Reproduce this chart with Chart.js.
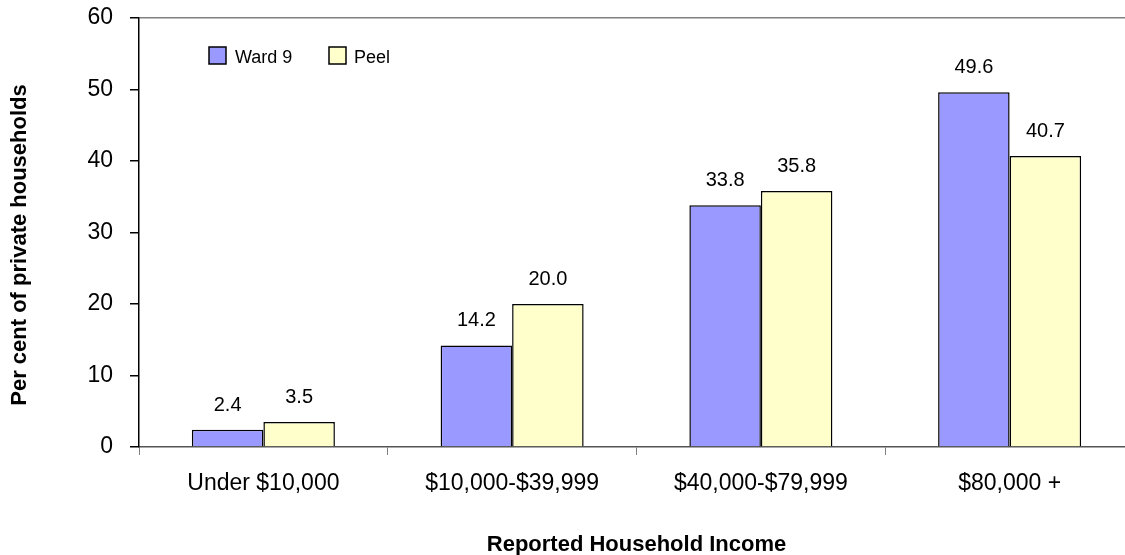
<!DOCTYPE html>
<html>
<head>
<meta charset="utf-8">
<script src="https://cdn.jsdelivr.net/npm/chart.js@4/dist/chart.umd.min.js"></script>
<style>
  html, body { margin: 0; padding: 0; background: #fff; overflow: hidden; }
  canvas { display: block; }
</style>
</head>
<body>
<canvas id="c" width="1140" height="555"></canvas>
<script>
// Household income distribution, Ward 9 vs Peel (per cent of private households)
const categories = ['Under $10,000', '$10,000-$39,999', '$40,000-$79,999', '$80,000 +'];
const ward9Values = [2.4, 14.2, 33.8, 49.6];
const peelValues = [3.5, 20.0, 35.8, 40.7];
const yTickValues = [0, 10, 20, 30, 40, 50, 60];
const seriesNames = ['Ward 9', 'Peel'];
const yAxisTitle = 'Per cent of private households';
const xAxisTitle = 'Reported Household Income';

const FONT = "'Liberation Sans', Arial, sans-serif";

// Value labels above each bar
const valueLabels = {
  id: 'valueLabels',
  afterDatasetsDraw(chart) {
    const ctx = chart.ctx;
    ctx.save();
    ctx.font = '20px ' + FONT;
    ctx.fillStyle = '#000';
    ctx.textAlign = 'center';
    ctx.textBaseline = 'alphabetic';
    chart.data.datasets.forEach((ds, i) => {
      chart.getDatasetMeta(i).data.forEach((bar, j) => {
        ctx.fillText(ds.data[j].toFixed(1), bar.x, bar.y - 19);
      });
    });
    ctx.restore();
  }
};

// Inline legend inside the plot area
const insetLegend = {
  id: 'insetLegend',
  afterDraw(chart) {
    const ctx = chart.ctx;
    const items = [{ x: 209, tx: 235 }, { x: 329, tx: 354 }];
    ctx.save();
    ctx.font = '18px ' + FONT;
    ctx.textBaseline = 'alphabetic';
    ctx.textAlign = 'left';
    chart.data.datasets.forEach((ds, i) => {
      const it = items[i];
      ctx.fillStyle = ds.backgroundColor;
      ctx.fillRect(it.x, 47, 17, 17);
      ctx.strokeStyle = '#000';
      ctx.lineWidth = 1.5;
      ctx.strokeRect(it.x, 47, 17, 17);
      ctx.fillStyle = '#000';
      ctx.fillText(ds.label, it.tx, 63);
    });
    ctx.restore();
  }
};

// Vertical value-axis title, placed a little below the plot's middle
const yTitle = {
  id: 'yTitle',
  afterDraw(chart) {
    const ctx = chart.ctx;
    ctx.save();
    ctx.translate(20, 245);
    ctx.rotate(-Math.PI / 2);
    ctx.font = 'bold 22px ' + FONT;
    ctx.fillStyle = '#000';
    ctx.textAlign = 'center';
    ctx.textBaseline = 'middle';
    ctx.fillText(yAxisTitle, 0, 0);
    ctx.restore();
  }
};

new Chart(document.getElementById('c'), {
  type: 'bar',
  data: {
    labels: categories,
    datasets: [
      { label: seriesNames[0], data: ward9Values, backgroundColor: '#9999FF', borderColor: '#000', borderWidth: 1.5 },
      { label: seriesNames[1], data: peelValues, backgroundColor: '#FFFFCC', borderColor: '#000', borderWidth: 1.5 }
    ]
  },
  options: {
    responsive: false,
    animation: false,
    layout: { padding: { left: 0, right: 6, top: 18, bottom: 0 } },
    datasets: { bar: { categoryPercentage: 0.575, barPercentage: 1.0 } },
    plugins: { legend: { display: false }, tooltip: { enabled: false } },
    scales: {
      x: {
        afterFit(s) { s.height = 108; },
        grid: { drawOnChartArea: false, color: '#808080', tickLength: 8, offset: true },
        border: { display: true, color: '#555', width: 1.5 },
        ticks: { color: '#000', font: { family: FONT, size: 23 }, padding: 15, maxRotation: 0 },
        title: { display: true, text: xAxisTitle, color: '#000',
                 font: { family: FONT, size: 22, weight: 'bold' }, padding: { top: 0, bottom: -3 } }
      },
      y: {
        min: 0, max: 60,
        afterFit(s) { s.width = 139; s.paddingTop = 0; s.paddingBottom = 0; },
        afterBuildTicks(s) { s.ticks = yTickValues.map(v => ({ value: v })); },
        grid: {
          color: c => (c.tick && c.tick.value === 60) ? '#808080' : 'rgba(0,0,0,0)',
          lineWidth: 1.5,
          tickColor: '#000',
          tickLength: 9
        },
        border: { display: true, color: '#000', width: 1.5 },
        ticks: { color: '#000', font: { family: FONT, size: 23 }, padding: 17 },
        title: { display: false }
      }
    }
  },
  plugins: [valueLabels, insetLegend, yTitle]
});
</script>
</body>
</html>
